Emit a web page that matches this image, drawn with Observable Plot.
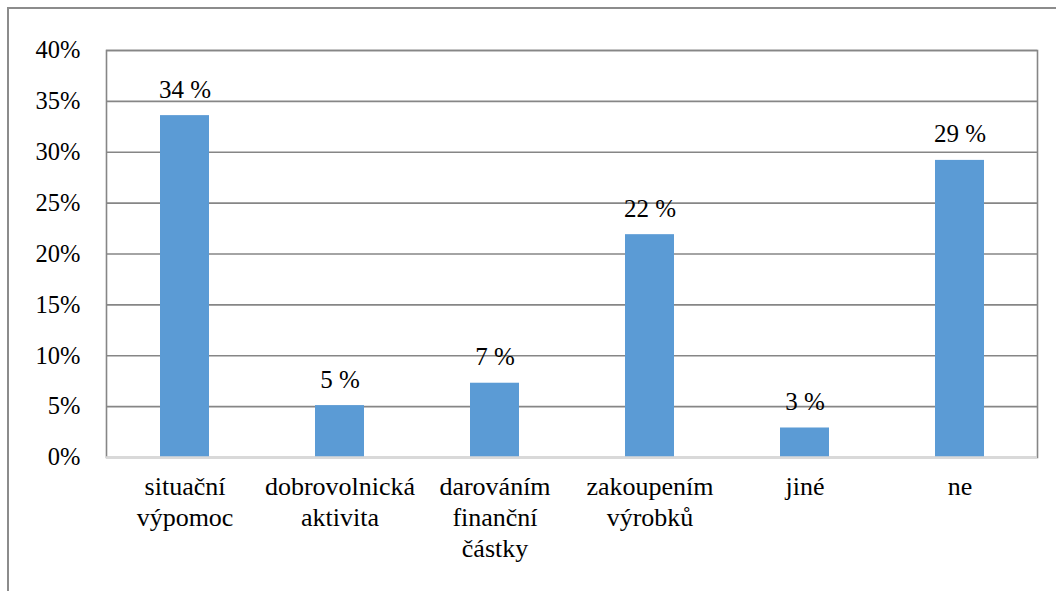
<!DOCTYPE html>
<html>
<head>
<meta charset="utf-8">
<script src="https://cdn.jsdelivr.net/npm/d3@7"></script>
<script src="https://cdn.jsdelivr.net/npm/@observablehq/plot@0.6"></script>
<style>
  @font-face { font-family: "ChartSerif"; src: local("Liberation Serif"), local("LiberationSerif"), local("Tinos"), local("Times New Roman"), local("DejaVu Serif"); }
  html, body { margin: 0; padding: 0; background: #fff; font-family: "Liberation Serif", "Tinos", serif; }
  #wrap { position: relative; width: 1056px; height: 591px; overflow: hidden; }
  #border { position: absolute; left: 7px; top: 7px; width: 1100px; height: 700px;
            border-left: 2px solid #8c8c8c; border-top: 2px solid #8c8c8c; box-sizing: border-box; pointer-events: none; }
  #chart { position: absolute; left: 0; top: 0; }
  #chart svg text, #chart svg tspan { font-family: "Liberation Serif", "ChartSerif", "Tinos", "Times New Roman", "DejaVu Serif", serif !important; }
</style>
</head>
<body>
<div id="wrap"><div id="chart"></div><div id="border"></div></div>
<script>
const categories = ["situační\nvýpomoc", "dobrovolnická\naktivita", "darováním\nfinanční\nčástky", "zakoupením\nvýrobků", "jiné", "ne"];
const values = [0.336, 0.051, 0.073, 0.219, 0.029, 0.292];
const valueLabels = ["34 %", "5 %", "7 %", "22 %", "3 %", "29 %"];
const yTicks = [0, 0.05, 0.10, 0.15, 0.20, 0.25, 0.30, 0.35, 0.40];

const data = categories.map((c, i) => ({ category: c, value: values[i], label: valueLabels[i] }));
const labelLines = categories.flatMap(c => c.split("\n").map((line, j) => ({ category: c, line, j })));
const FONT = "Liberation Serif, ChartSerif, Tinos, Times New Roman, DejaVu Serif, serif";
const FONT_CSS = "\"Liberation Serif\", \"ChartSerif\", \"Tinos\", \"Times New Roman\", \"DejaVu Serif\", serif";

const lineMark = j => Plot.text(labelLines.filter(d => d.j === j), {
  x: "category", text: "line", frameAnchor: "bottom", lineAnchor: "middle", dy: 29.5 + 31 * j,
  fill: "#000", fontSize: 26, fontFamily: FONT
});

const chart = Plot.plot({
  width: 1056,
  height: 591,
  marginLeft: 106,
  marginRight: 19,
  marginTop: 50,
  marginBottom: 134,
  style: { color: "#000", background: "#fff" },
  x: { domain: categories, padding: 0, label: null, axis: null },
  y: { domain: [0, 0.40], label: null },
  marks: [
    Plot.ruleY(yTicks.slice(1), { stroke: "#868686", strokeWidth: 1.6, strokeOpacity: 1 }),
    Plot.frame({ stroke: "#868686", strokeWidth: 1.6, strokeOpacity: 1 }),
    Plot.barY(data, { x: "category", y: "value", fill: "#5b9bd5", insetLeft: 53, insetRight: 53 }),
    Plot.ruleY([0], { stroke: "#d9d9d9", strokeWidth: 2.5, strokeOpacity: 1 }),
    Plot.text(data, { x: "category", y: "value", text: "label", dy: -26, fill: "#000", fontSize: 25, fontFamily: FONT }),
    Plot.axisY({ ticks: yTicks, tickFormat: d => Math.round(d * 100) + "%", tickSize: 0, tickPadding: 26, fontSize: 24.5, fontFamily: FONT, fill: "#000", label: null }),
    lineMark(0), lineMark(1), lineMark(2)
  ]
});

function applyFont() {
  chart.setAttribute("font-family", FONT);
  chart.querySelectorAll("g").forEach(g => g.setAttribute("font-family", FONT));
  chart.querySelectorAll("text, tspan").forEach(t => {
    t.setAttribute("font-family", FONT);
    t.style.setProperty("font-family", FONT_CSS, "important");
  });
}
applyFont();
document.getElementById("chart").appendChild(chart);
applyFont();
chart.querySelectorAll("text").forEach(t => { getComputedStyle(t).fontFamily; try { t.getBBox(); } catch (e) {} });
requestAnimationFrame(applyFont);
setTimeout(applyFont, 30);
if (document.fonts && document.fonts.load) {
  document.fonts.load("25px ChartSerif").then(applyFont).catch(() => {});
}
</script>
</body>
</html>
